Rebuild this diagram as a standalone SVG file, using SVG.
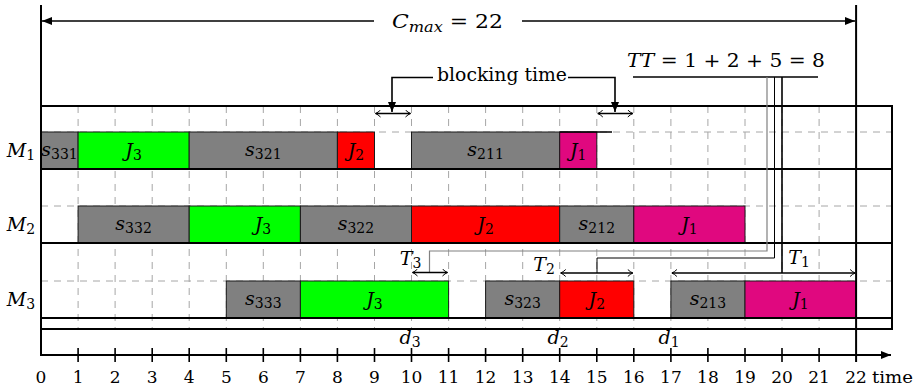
<svg xmlns="http://www.w3.org/2000/svg" width="921" height="388" viewBox="0 0 921 388">
<defs>
<style>
text { font-family: "DejaVu Serif", "Liberation Serif", serif; fill: #000; }
.mi { font-style: italic; font-size: 19px; text-anchor: middle; }
.rm { font-style: normal; }
.sb { font-size: 14px; font-style: normal; }
.num { font-size: 17px; text-anchor: middle; }
.grid { stroke: #a6a6a6; stroke-width: 1; stroke-dasharray: 7 6; fill: none; }
.frame { stroke: #000; stroke-width: 2; fill: none; }
.box { stroke: #1a1a1a; stroke-width: 1; }
.gray { fill: #808080; }
.green { fill: #00ff00; }
.red { fill: #ff0000; }
.mag { fill: #e0087f; }
.arr { stroke: #000; stroke-width: 1.6; fill: none; }
.thin { stroke: #000; stroke-width: 1; fill: none; }
</style>
<marker id="head" viewBox="0 0 10 8" refX="10" refY="4" markerWidth="10" markerHeight="8" markerUnits="userSpaceOnUse" orient="auto-start-reverse">
<path d="M0,0 L10,4 L0,8 z" fill="#000"/>
</marker>
<marker id="open" viewBox="0 0 6 8" refX="5.5" refY="4" markerWidth="6" markerHeight="8" markerUnits="userSpaceOnUse" orient="auto-start-reverse">
<path d="M0.5,0.5 Q3,3 5.5,4 Q3,5 0.5,7.5" fill="none" stroke="#000" stroke-width="1"/>
</marker>
</defs>

<!-- background grid: one dashed column per time unit, dashed row tops -->
<g id="grid" class="grid">
<path d="M78.1,106V329M115.1,106V329M152.2,106V329M189.2,106V329M226.3,106V329M263.3,106V329M300.4,106V329M337.4,106V329M374.5,106V329M411.5,106V329M448.6,106V329M485.6,106V329M522.7,106V329M559.7,106V329M596.8,106V329M633.8,106V329M670.9,106V329M707.9,106V329M745,106V329M782,106V329M819.1,106V329"/>
<path d="M41,132H892M41,206H892M41,281H892"/>
</g>

<!-- machine M1 -->
<g id="M1">
<text class="mi" x="21" y="157">M<tspan class="sb" dy="3">1</tspan></text>
<g id="M1-s331"><rect class="box gray" x="41" y="132" width="37.1" height="37"/><text class="mi" x="59.5" y="156">s<tspan class="sb" dy="3">331</tspan></text></g>
<g id="M1-J3"><rect class="box green" x="78.1" y="132" width="111.1" height="37"/><text class="mi" x="133.6" y="157">J<tspan class="sb" dy="3">3</tspan></text></g>
<g id="M1-s321"><rect class="box gray" x="189.2" y="132" width="148.2" height="37"/><text class="mi" x="263.3" y="156">s<tspan class="sb" dy="3">321</tspan></text></g>
<g id="M1-J2"><rect class="box red" x="337.4" y="132" width="37.1" height="37"/><text class="mi" x="356" y="157">J<tspan class="sb" dy="3">2</tspan></text></g>
<g id="M1-s211"><rect class="box gray" x="411.5" y="132" width="148.2" height="37"/><text class="mi" x="485.6" y="156">s<tspan class="sb" dy="3">211</tspan></text></g>
<g id="M1-J1"><rect class="box mag" x="559.7" y="132" width="37.1" height="37"/><text class="mi" x="578.2" y="157">J<tspan class="sb" dy="3">1</tspan></text></g>
</g>

<!-- machine M2 -->
<g id="M2">
<text class="mi" x="21" y="231">M<tspan class="sb" dy="3">2</tspan></text>
<g id="M2-s332"><rect class="box gray" x="78.1" y="206" width="111.1" height="37"/><text class="mi" x="133.6" y="230">s<tspan class="sb" dy="3">332</tspan></text></g>
<g id="M2-J3"><rect class="box green" x="189.2" y="206" width="111.2" height="37"/><text class="mi" x="263" y="231">J<tspan class="sb" dy="3">3</tspan></text></g>
<g id="M2-s322"><rect class="box gray" x="300.4" y="206" width="111.1" height="37"/><text class="mi" x="355.9" y="230">s<tspan class="sb" dy="3">322</tspan></text></g>
<g id="M2-J2"><rect class="box red" x="411.5" y="206" width="148.2" height="37"/><text class="mi" x="485.6" y="231">J<tspan class="sb" dy="3">2</tspan></text></g>
<g id="M2-s212"><rect class="box gray" x="559.7" y="206" width="74.1" height="37"/><text class="mi" x="596.8" y="230">s<tspan class="sb" dy="3">212</tspan></text></g>
<g id="M2-J1"><rect class="box mag" x="633.8" y="206" width="111.2" height="37"/><text class="mi" x="689.4" y="231">J<tspan class="sb" dy="3">1</tspan></text></g>
</g>

<!-- machine M3 -->
<g id="M3">
<text class="mi" x="21" y="306">M<tspan class="sb" dy="3">3</tspan></text>
<g id="M3-s333"><rect class="box gray" x="226.3" y="281" width="74.1" height="37"/><text class="mi" x="263.3" y="305">s<tspan class="sb" dy="3">333</tspan></text></g>
<g id="M3-J3"><rect class="box green" x="300.4" y="281" width="148.2" height="37"/><text class="mi" x="374.5" y="306">J<tspan class="sb" dy="3">3</tspan></text></g>
<g id="M3-s323"><rect class="box gray" x="485.6" y="281" width="74.1" height="37"/><text class="mi" x="522.7" y="305">s<tspan class="sb" dy="3">323</tspan></text></g>
<g id="M3-J2"><rect class="box red" x="559.7" y="281" width="74.1" height="37"/><text class="mi" x="596.8" y="306">J<tspan class="sb" dy="3">2</tspan></text></g>
<g id="M3-s213"><rect class="box gray" x="670.9" y="281" width="74.1" height="37"/><text class="mi" x="707.9" y="305">s<tspan class="sb" dy="3">213</tspan></text></g>
<g id="M3-J1"><rect class="box mag" x="745" y="281" width="111.1" height="37"/><text class="mi" x="800.5" y="306">J<tspan class="sb" dy="3">1</tspan></text></g>
</g>

<!-- frame, row separators and axes -->
<g id="frame">
<path class="frame" d="M41,106H892V329H41M41,169H892M41,243H892M41,318H892"/>
<path class="arr" d="M559.7,132H612"/>
<path class="frame" d="M41,5V356M856.1,5V362"/>
<path class="frame" d="M41,355H891" marker-end="url(#head)"/>
<path class="arr" d="M78.1,348V362M115.1,348V362M152.2,348V362M189.2,348V362M226.3,348V362M263.3,348V362M300.4,348V362M337.4,348V362M374.5,348V362M411.5,348V362M448.6,348V362M485.6,348V362M522.7,348V362M559.7,348V362M596.8,348V362M633.8,348V362M670.9,348V362M707.9,348V362M745,348V362M782,348V362M819.1,348V362"/>
</g>

<!-- axis labels -->
<g id="axis-labels">
<text class="num" x="41" y="383">0</text>
<text class="num" x="78.1" y="383">1</text>
<text class="num" x="115.1" y="383">2</text>
<text class="num" x="152.2" y="383">3</text>
<text class="num" x="189.2" y="383">4</text>
<text class="num" x="226.3" y="383">5</text>
<text class="num" x="263.3" y="383">6</text>
<text class="num" x="300.4" y="383">7</text>
<text class="num" x="337.4" y="383">8</text>
<text class="num" x="374.5" y="383">9</text>
<text class="num" x="411.5" y="383">10</text>
<text class="num" x="448.6" y="383">11</text>
<text class="num" x="485.6" y="383">12</text>
<text class="num" x="522.7" y="383">13</text>
<text class="num" x="559.7" y="383">14</text>
<text class="num" x="596.8" y="383">15</text>
<text class="num" x="633.8" y="383">16</text>
<text class="num" x="670.9" y="383">17</text>
<text class="num" x="707.9" y="383">18</text>
<text class="num" x="745" y="383">19</text>
<text class="num" x="782" y="383">20</text>
<text class="num" x="819.1" y="383">21</text>
<text class="num" x="856.1" y="383">22</text>
<text x="872" y="383" style="font-size:17px" textLength="41" lengthAdjust="spacingAndGlyphs">time</text>
<text class="mi" x="410" y="344">d<tspan class="sb" dy="3">3</tspan></text>
<text class="mi" x="558" y="344">d<tspan class="sb" dy="3">2</tspan></text>
<text class="mi" x="669" y="344">d<tspan class="sb" dy="3">1</tspan></text>
</g>

<!-- annotations -->
<g id="annotations">
<text class="mi" x="447.5" y="28" textLength="111" lengthAdjust="spacingAndGlyphs">C<tspan class="sb" style="font-style:italic" dy="4">max</tspan><tspan class="rm" dy="-4"> = 22</tspan></text>
<text class="mi" x="726" y="67" textLength="198" lengthAdjust="spacingAndGlyphs">TT<tspan class="rm"> = 1 + 2 + 5 = 8</tspan></text>
<text x="502" y="81" style="font-size:18px;text-anchor:middle" textLength="130" lengthAdjust="spacingAndGlyphs">blocking time</text>
<text class="mi" x="410.5" y="265">T<tspan class="sb" dy="3">3</tspan></text>
<text class="mi" x="544" y="271">T<tspan class="sb" dy="3">2</tspan></text>
<text class="mi" x="799" y="264">T<tspan class="sb" dy="3">1</tspan></text>
</g>

<!-- connectors -->
<g id="connectors">
<path class="arr" d="M374,21H42" marker-end="url(#head)"/>
<path class="arr" d="M522,21H855" marker-end="url(#head)"/>
<path class="arr" d="M433,77.5H392V112" marker-end="url(#head)"/>
<path class="arr" d="M568,77.5H615V112" marker-end="url(#head)"/>
<path class="arr" d="M375.5,113.5H410.5" marker-start="url(#open)" marker-end="url(#open)"/>
<path class="arr" d="M597.8,113.5H632.8" marker-start="url(#open)" marker-end="url(#open)"/>
<path class="arr" d="M633,77H818"/>
<path d="M767,77V251H429.5V272.5" fill="none" stroke="#808080" stroke-width="1.2"/>
<path class="thin" d="M774.5,77V258H597V273"/>
<path class="arr" d="M782,77V273"/>
<path class="arr" d="M412.5,272.5H447.5" marker-start="url(#open)" marker-end="url(#open)"/>
<path class="arr" d="M560.7,273H632.8" marker-start="url(#open)" marker-end="url(#open)"/>
<path class="arr" d="M671.9,273H855.1" marker-start="url(#open)" marker-end="url(#open)"/>
</g>
</svg>
